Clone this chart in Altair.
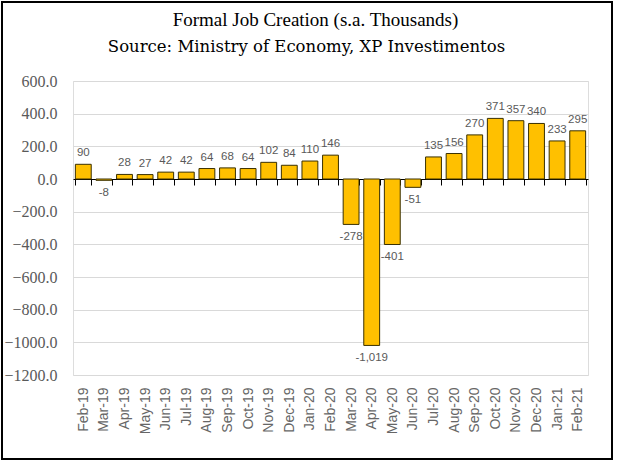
import altair as alt
import pandas as pd

months = ["Feb-19", "Mar-19", "Apr-19", "May-19", "Jun-19", "Jul-19", "Aug-19", "Sep-19",
          "Oct-19", "Nov-19", "Dec-19", "Jan-20", "Feb-20", "Mar-20", "Apr-20", "May-20",
          "Jun-20", "Jul-20", "Aug-20", "Sep-20", "Oct-20", "Nov-20", "Dec-20", "Jan-21", "Feb-21"]
values = [90, -8, 28, 27, 42, 42, 64, 68, 64, 102, 84, 110, 146, -278, -1019, -401,
          -51, 135, 156, 270, 371, 357, 340, 233, 295]
y_ticks = [600, 400, 200, 0, -200, -400, -600, -800, -1000, -1200]
title_text = "Formal Job Creation (s.a. Thousands)"
subtitle_text = "Source: Ministry of Economy, XP Investimentos"

df = pd.DataFrame({"month": months, "value": values})
df["label"] = [f"{v:,}" for v in values]

W, H = 515, 294
YMIN, YMAX = -1200, 600
zero_from_bottom = H * (0 - YMIN) / (YMAX - YMIN)

serif = "Liberation Serif"
sans = "Liberation Sans"
gray = "#595959"

x_enc = alt.X("month:N", sort=months, title=None,
              scale=alt.Scale(paddingInner=0.23, paddingOuter=0.115),
              axis=alt.Axis(orient="bottom", offset=-zero_from_bottom, domainColor="#000000",
                            domainWidth=1.2, tickColor="#000000", tickSize=6, tickBand="extent",
                            labelAngle=-90, labelAlign="right", labelBaseline="middle",
                            labelPadding=zero_from_bottom + 6, labelFont=sans, labelFontSize=14,
                            labelColor="#666666", grid=False))
y_enc = alt.Y("value:Q", title=None,
              scale=alt.Scale(domain=[YMIN, YMAX], nice=False),
              axis=alt.Axis(values=y_ticks, format=".1f", labelOverlap=False))

base = alt.Chart(df).encode(x=x_enc, y=y_enc)

bars = base.mark_bar(color="#FFC000", stroke="#3a3000", strokeWidth=1)

pos_labels = base.transform_filter("datum.value >= 0").mark_text(
    baseline="bottom", dy=-6, font=sans, fontSize=11.5, color=gray).encode(text="label:N")
neg_labels = base.transform_filter("datum.value < 0").mark_text(
    baseline="top", dy=7, font=sans, fontSize=11.5, color=gray).encode(text="label:N")

frame = alt.Chart(pd.DataFrame({"a": [0]})).mark_rect(
    fill=None, stroke="#000000", strokeWidth=2).encode(
    x=alt.value(-71), x2=alt.value(W + 24), y=alt.value(-79), y2=alt.value(H + 84))

title = alt.Chart(pd.DataFrame({"t": [title_text]})).mark_text(
    font=serif, fontSize=19, color="#000000", baseline="middle").encode(
    x=alt.value(W / 2 - 15), y=alt.value(-61), text="t:N")
subtitle = alt.Chart(pd.DataFrame({"t": [subtitle_text]})).mark_text(
    font="DejaVu Serif", fontSize=16.5, color="#000000", baseline="middle").encode(
    x=alt.value(W / 2 - 24), y=alt.value(-34), text="t:N")

chart = alt.layer(bars, pos_labels, neg_labels, frame, title, subtitle).properties(
    width=W, height=H,
    autosize=alt.AutoSizeParams(type="none"),
    padding={"left": 73, "top": 81, "right": 30, "bottom": 92},
).configure_view(strokeWidth=0).configure(background="#ffffff").configure_axisY(
    labelFont=serif, labelFontSize=16, labelColor=gray, labelPadding=16,
    ticks=False, domain=False, gridColor="#d9d9d9", gridWidth=1.2)

chart.save("out.html", embed_options={"renderer": "svg", "actions": False})
